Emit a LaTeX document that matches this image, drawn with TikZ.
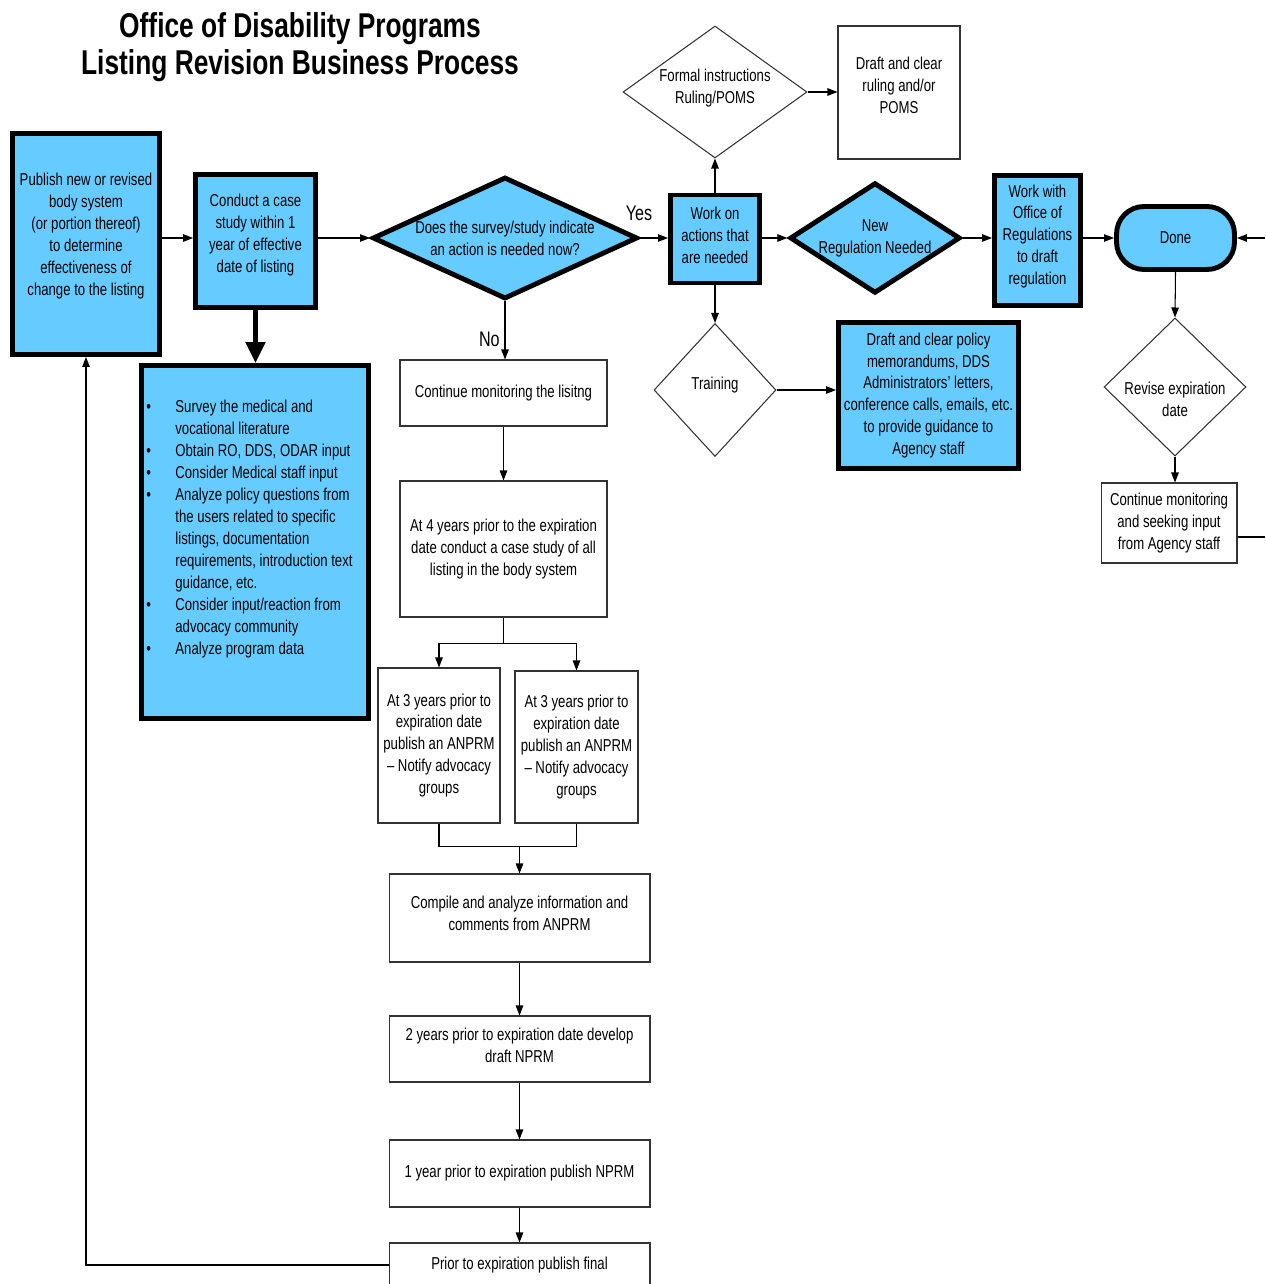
\documentclass[tikz,border=0pt]{standalone}
\usepackage{fontspec}
\setmainfont{Liberation Sans}[FakeStretch=0.765]
\usepackage{tikz}
\usetikzlibrary{shapes.geometric,arrows.meta,calc}
\definecolor{lbblue}{HTML}{66CCFF}
\newcommand{\itm}{\makebox[0.58cm][l]{\textbullet}}
\newcommand{\cnt}{\hspace*{0.58cm}}

\begin{document}
\begin{tikzpicture}[x=0.02cm,y=-0.02cm,
    font=\fontsize{9.8}{12.5}\selectfont,
    bluebox/.style={draw, line width=\bw, fill=lbblue, align=center, inner sep=1pt},
    plainbox/.style={draw=black!80, line width=0.6pt, align=center, inner sep=2pt},
    bluediam/.style={diamond, draw, line width=\bw, fill=lbblue, align=center, inner sep=0pt},
    plaindiam/.style={diamond, draw=black!80, line width=0.6pt, align=center, inner sep=0pt},
    yesno/.style={font=\fontsize{12}{14}\selectfont, inner sep=0pt},
    flow/.style={-{Triangle[length=0.2cm,width=0.15cm]}, line width=0.6pt},
    link/.style={line width=0.6pt},
    bigflow/.style={-{Triangle[length=0.42cm,width=0.38cm]}, line width=\bw}]
    \def\bw{2.8pt}
    \useasboundingbox (0,0) rectangle (1265,1284);
    \coordinate (row) at (0,238);
    \coordinate (rin) at (1265,238);
    \coordinate (rout) at (1265,537);

    \node[font=\fontsize{19.6}{21}\selectfont\bfseries, align=center] (title) at (300,47)
        {Office of Disability Programs\\Listing Revision Business Process};

    \node[bluebox, text depth=11.2pt, minimum width=2.94cm, minimum height=4.42cm] (publish) at (86,244)
        {Publish new or revised\\body system\\(or portion thereof)\\to determine\\effectiveness of\\change to the listing};
    \node[bluebox, text depth=8.9pt, minimum width=2.4cm, minimum height=2.66cm] (conduct) at (255.5,241)
        {Conduct a case\\study within 1\\year of effective\\date of listing};
    \node[bluebox, minimum width=4.54cm, minimum height=7.06cm] (survey) at (255,542) {};
    \node[anchor=north west, align=left, inner sep=0pt] (surveylist) at ($(survey.north west)+(7,37)$)
        {\itm Survey the medical and\\
         \cnt vocational literature\\
         \itm Obtain RO, DDS, ODAR input\\
         \itm Consider Medical staff input\\
         \itm Analyze policy questions from\\
         \cnt the users related to specific\\
         \cnt listings, documentation\\
         \cnt requirements, introduction text\\
         \cnt guidance, etc.\\
         \itm Consider input/reaction from\\
         \cnt advocacy community\\
         \itm Analyze program data};

    \node[bluediam, minimum width=5.3cm, minimum height=2.44cm, shape aspect=2.17] (question) at (505,238)
        {Does the survey/study indicate\\an action is needed now?};
    \node[yesno] (yes) at ($(question.east)+(-1,-25)$) {Yes};
    \node[yesno, anchor=east] (no) at ($(question.south)+(-5,38)$) {No};
    \node[bluebox, text depth=4.5pt, minimum width=1.78cm, minimum height=1.76cm] (work) at (715,239)
        {Work on\\actions that\\are needed};
    \node[plaindiam, text depth=6.6pt, minimum width=3.68cm, minimum height=2.64cm, shape aspect=1.4] (formal) at (715,92)
        {Formal instructions\\Ruling/POMS};
    \node[plainbox, text depth=7.9pt, minimum width=2.44cm, minimum height=2.66cm] (draftrule) at (899,92.5)
        {Draft and clear\\ruling and/or\\POMS};
    \node[bluediam, minimum width=3.2cm, minimum height=2.08cm, shape aspect=1.54] (newreg) at (875,238)
        {New\\Regulation Needed};
    \node[bluebox, text depth=6.6pt, minimum width=1.72cm, minimum height=2.6cm] (workreg) at (1037.5,240.5)
        {Work with\\Office of\\Regulations\\to draft\\regulation};
    \node[bluebox, rounded corners=0.55cm, minimum width=2.36cm, minimum height=1.26cm] (done) at (1175.5,238)
        {Done};
    \node[plaindiam, minimum width=2.84cm, minimum height=2.76cm] (revise) at (1175,387) {};
    \node[align=center] (revisetext) at ($(revise.center)+(0,12)$) {Revise expiration\\date};
    \node[plainbox, minimum width=2.72cm, minimum height=1.6cm] (agency) at (1169,523)
        {Continue monitoring\\and seeking input\\from Agency staff};
    \node[plaindiam, text depth=7.8pt, minimum width=2.44cm, minimum height=2.66cm, shape aspect=0.92] (training) at (715,390)
        {Training};
    \node[bluebox, minimum width=3.6cm, minimum height=2.92cm] (guidance) at (928.5,395.5)
        {Draft and clear policy\\memorandums, DDS\\Administrators’ letters,\\conference calls, emails, etc.\\to provide guidance to\\Agency staff};

    \node[plainbox, minimum width=4.14cm, minimum height=1.32cm] (monitor) at (503.5,393)
        {Continue monitoring the lisitng};
    \node[plainbox, minimum width=4.14cm, minimum height=2.72cm] (fouryears) at (503.5,549)
        {At 4 years prior to the expiration\\date conduct a case study of all\\listing in the body system};
    \node[plainbox, minimum width=2.44cm, minimum height=3.1cm] (anprma) at (439,745.5)
        {At 3 years prior to\\expiration date\\publish an ANPRM\\– Notify advocacy\\groups};
    \node[plainbox, minimum width=2.46cm, minimum height=3.04cm] (anprmb) at (576.5,747)
        {At 3 years prior to\\expiration date\\publish an ANPRM\\– Notify advocacy\\groups};
    \node[plainbox, text depth=5.7pt, minimum width=5.22cm, minimum height=1.76cm] (compile) at (519.5,918)
        {Compile and analyze information and\\comments from ANPRM};
    \node[plainbox, text depth=4.5pt, minimum width=5.22cm, minimum height=1.32cm] (twoyears) at (519.5,1049)
        {2 years prior to expiration date develop\\draft NPRM};
    \node[plainbox, minimum width=5.22cm, minimum height=1.34cm] (oneyear) at (519.5,1173.5)
        {1 year prior to expiration publish NPRM};
    \node[plainbox, minimum width=5.22cm, minimum height=0.88cm] (final) at (519.5,1265)
        {Prior to expiration publish final};

    \coordinate (split) at ($(fouryears.south)+(0,26)$);
    \coordinate (merge) at ($(compile.north)+(0,-27)$);

    \draw[flow] (publish.east |- row) -- (conduct.west |- row);
    \draw[flow] (conduct.east |- row) -- (question.west);
    \draw[bigflow] (conduct.south) -- (conduct.south |- survey.north);
    \draw[flow] (question.east) -- (work.west |- row);
    \draw[flow] (question.south) -- (question.south |- monitor.north);
    \draw[flow] (work.north) -- (formal.south);
    \draw[flow] (formal.east) -- (formal.east -| draftrule.west);
    \draw[flow] (work.east |- row) -- (newreg.west);
    \draw[flow] (newreg.east) -- (workreg.west |- row);
    \draw[flow] (workreg.east |- row) -- (done.west);
    \draw[flow] (rin) -- (done.east);
    \draw[flow] (done.south) -- (revise.north);
    \draw[flow] (revise.south) -- (revise.south |- agency.north);
    \draw[link] (agency.east |- rout) -- (rout);
    \draw[flow] (work.south) -- (training.north);
    \draw[flow] (training.east) -- (training.east -| guidance.west);
    \draw[flow] (monitor.south) -- (fouryears.north);
    \draw[link] (fouryears.south) -- (split);
    \draw[flow] (split) -| (anprma.north);
    \draw[flow] (split) -| (anprmb.north);
    \draw[link] (anprma.south) |- (merge) -| (anprmb.south);
    \draw[flow] (merge) -- (compile.north);
    \draw[flow] (compile.south) -- (twoyears.north);
    \draw[flow] (twoyears.south) -- (oneyear.north);
    \draw[flow] (oneyear.south) -- (final.north);
    \draw[flow] (final.west) -| (publish.south);
\end{tikzpicture}
\end{document}
